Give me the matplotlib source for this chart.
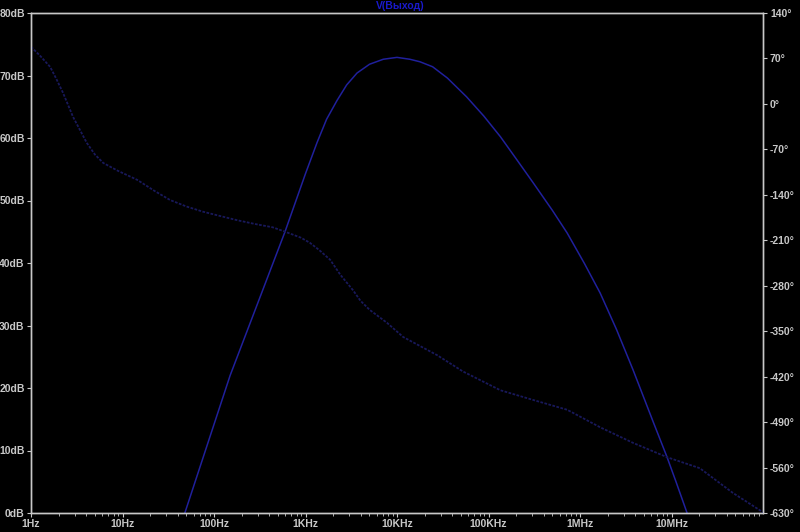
import matplotlib.pyplot as plt
from matplotlib.ticker import FixedLocator, NullFormatter, LogLocator

# magnitude
mag_freq = [48, 150, 597, 1000, 1340, 1700, 2210, 2820, 3660, 5010, 7080,
            10000, 13800, 17800, 24500, 35500, 57500, 89000, 135000, 200000,
            309000, 500000, 724000, 1120000, 1660000, 2500000, 3800000,
            6300000, 8910000, 11200000, 14800000]
mag_db = [0.0, 22.0, 45.0, 54.3, 59.3, 63.0, 66.0, 68.5, 70.4, 71.8, 72.6,
          72.9, 72.6, 72.2, 71.4, 69.6, 66.6, 63.5, 60.2, 56.7,
          52.8, 48.4, 44.8, 39.9, 35.2, 29.4, 22.9,
          14.6, 9.0, 5.0, 0.0]

# phase
ph_freq = [1.0, 1.26, 1.62, 1.9, 2.24, 2.88, 4.07, 5.0, 6.17, 8.9, 14.5, 22.4,
           33.1, 50, 75.9, 112, 178, 282, 437, 603, 891, 1120, 1410, 1860,
           2400, 3310, 3980, 5010, 7760, 11700, 27500, 52500, 135000,
           309000, 724000, 1660000, 3800000, 8910000, 20400000, 46800000,
           93000000, 100000000]
ph_deg = [88, 74, 57, 38, 17, -20, -60, -78, -91, -103, -117, -134,
          -148, -158, -166, -172, -179, -185, -190, -197, -206, -214, -225, -240,
          -263, -287, -303, -317, -337, -359, -387, -412, -441,
          -456, -471, -498, -522, -544, -561, -599,
          -626, -630]

x_ticks = [1, 10, 100, 1e3, 1e4, 1e5, 1e6, 1e7]
x_labels = ['1Hz', '10Hz', '100Hz', '1KHz', '10KHz', '100KHz', '1MHz', '10MHz']
db_ticks = [0, 10, 20, 30, 40, 50, 60, 70, 80]
deg_ticks = [-630, -560, -490, -420, -350, -280, -210, -140, -70, 0, 70, 140]

fg = '#c8c8c8'
plt.rcParams['font.family'] = ['Liberation Sans', 'DejaVu Sans']
plt.rcParams['font.weight'] = 'bold'

fig = plt.figure(figsize=(8, 5.32), dpi=100, facecolor='black')
ax1 = fig.add_axes([31 / 800, 19 / 532, 732 / 800, 500 / 532], facecolor='black')
ax2 = ax1.twinx()

ax1.plot(mag_freq, mag_db, color='#20209c', lw=1.1)
ax2.plot(ph_freq, ph_deg, color='#18185a', lw=1.3, ls=(0, (1.5, 0.8)))

ax1.set_xscale('log')
ax1.set_xlim(1, 1e8)
ax1.set_ylim(0, 80)
ax2.set_ylim(-630, 140)

ax1.xaxis.set_major_locator(FixedLocator(x_ticks))
ax1.set_xticklabels(x_labels)
ax1.xaxis.set_minor_locator(LogLocator(base=10, subs=range(2, 10)))
ax1.xaxis.set_minor_formatter(NullFormatter())

ax1.set_yticks(db_ticks)
ax1.set_yticklabels([f'{v}dB' for v in db_ticks])
ax2.set_yticks(deg_ticks)
ax2.set_yticklabels([f'{v}°' for v in deg_ticks])

for ax in (ax1, ax2):
    for s in ax.spines.values():
        s.set_color(fg)
        s.set_linewidth(1)
    ax.tick_params(colors=fg, labelsize=7.5, direction='out', width=0.8)
ax1.tick_params(axis='x', which='major', length=3, pad=1)
ax1.tick_params(axis='x', which='minor', length=2, color=fg)
ax1.tick_params(axis='y', length=3, pad=1.5)
ax2.tick_params(axis='y', length=3, pad=2)
ax1.tick_params(top=False, which='both')

fig.text(0.5, 1 - 6 / 532, 'V(Выход)', color='#1a1acc', fontsize=7.5,
         ha='center', va='center', fontweight='bold')

fig.savefig('out.png', dpi=100, facecolor='black')
